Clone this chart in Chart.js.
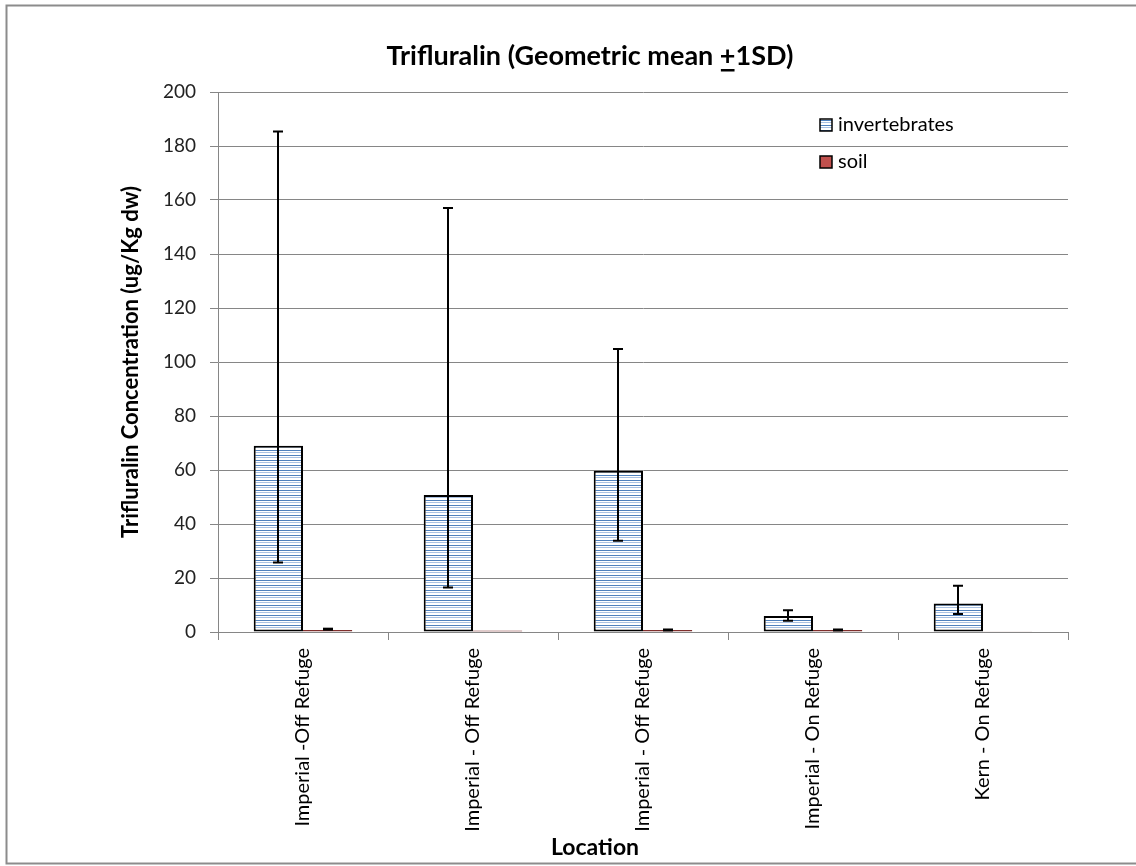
<!DOCTYPE html>
<html>
<head>
<meta charset="utf-8">
<script src="https://cdn.jsdelivr.net/npm/chart.js@4.4.1/dist/chart.umd.min.js"></script>
<style>
html,body{margin:0;padding:0;background:#fff;}
#wrap{width:1136px;height:866px;position:relative;}
</style>
</head>
<body>
<div id="wrap"><canvas id="c"></canvas></div>
<script>
const categories = ["Imperial -Off Refuge", "Imperial - Off Refuge", "Imperial - Off Refuge", "Imperial - On Refuge", "Kern - On Refuge"];
const invertebrates = [69.0, 50.7, 59.7, 5.9, 10.6];
const invertebratesLow = [25.7, 16.5, 33.8, 4.2, 6.7];
const invertebratesHigh = [185.4, 157.0, 104.8, 8.1, 17.1];
const soil = [0.7, 0.6, 0.7, 0.7, 0.3];
const soilLow = [0.5, 0.6, 0.5, 0.5, 0.3];
const soilHigh = [1.6, 0.6, 1.3, 1.3, 0.3];
const yTicks = [0, 20, 40, 60, 80, 100, 120, 140, 160, 180, 200];
const titleText = "Trifluralin (Geometric mean ";
const titlePm = "+";
const titleRest = "1SD)";
const yTitle = "Trifluralin Concentration (ug/Kg dw)";
const xTitle = "Location";
const legendLabels = ["invertebrates", "soil"];

const FONT = "Lato, 'Open Sans', sans-serif";

function makePattern(){
  const p = document.createElement('canvas');
  p.width = 8; p.height = 5;
  const g = p.getContext('2d');
  g.fillStyle = '#ffffff'; g.fillRect(0,0,8,5);
  g.fillStyle = '#4F81BD'; g.fillRect(0,0,8,1);
  g.fillStyle = '#A9C1E2'; g.fillRect(0,2,8,1);
  return document.getElementById('c').getContext('2d').createPattern(p,'repeat');
}
const pattern = makePattern();

const errorBars = {
  id: 'errorBars',
  afterDatasetsDraw(chart){
    const ctx = chart.ctx;
    const y = chart.scales.y;
    const sets = [[invertebratesLow, invertebratesHigh],[soilLow, soilHigh]];
    ctx.save();
    ctx.strokeStyle = '#000';
    ctx.lineWidth = 2;
    sets.forEach((s, di) => {
      const meta = chart.getDatasetMeta(di);
      meta.data.forEach((bar, i) => {
        const lo = s[0][i], hi = s[1][i];
        if (hi - lo < 0.01) return;
        const x = Math.round(bar.x);
        const yl = y.getPixelForValue(lo), yh = y.getPixelForValue(hi);
        if (yl - yh < 4) {
          ctx.fillStyle = '#000';
          ctx.fillRect(x-5, yh, 10, Math.max(yl-yh,3));
          return;
        }
        ctx.beginPath();
        ctx.moveTo(x, yl); ctx.lineTo(x, yh);
        ctx.moveTo(x-5, yh); ctx.lineTo(x+5, yh);
        ctx.moveTo(x-5, yl); ctx.lineTo(x+5, yl);
        ctx.stroke();
      });
    });
    ctx.restore();
  }
};

const decor = {
  id: 'decor',
  beforeDraw(chart){
    const ctx = chart.ctx;
    ctx.save();
    ctx.fillStyle = '#fff';
    ctx.fillRect(0,0,chart.width,chart.height);
    ctx.strokeStyle = '#8c8c8c';
    ctx.lineWidth = 2;
    ctx.strokeRect(6.5, 5.5, 1140, 858);
    ctx.restore();
  },
  afterDraw(chart){
    const ctx = chart.ctx;
    ctx.save();
    // title
    ctx.fillStyle = '#000';
    ctx.font = "bold 27px " + FONT;
    ctx.textBaseline = 'alphabetic';
    const full = titleText + titlePm + titleRest;
    const w = ctx.measureText(full).width;
    const x0 = 590 - w/2;
    ctx.textAlign = 'left';
    ctx.fillText(full, x0, 65);
    const pw = ctx.measureText(titleText).width;
    const plw = ctx.measureText(titlePm).width;
    ctx.fillRect(x0 + pw + 1, 69, plw - 2, 2.5);
    // y title
    ctx.font = "bold 22px " + FONT;
    ctx.save();
    ctx.translate(131, 362);
    ctx.rotate(-Math.PI/2);
    ctx.textAlign = 'center';
    ctx.textBaseline = 'middle';
    ctx.fillText(yTitle, 0, 0);
    ctx.restore();
    // x title
    ctx.textAlign = 'center';
    ctx.textBaseline = 'middle';
    ctx.font = "bold 23px " + FONT;
    ctx.fillText(xTitle, 595, 848);
    // legend
    ctx.font = "20px " + FONT;
    ctx.textAlign = 'left';
    const items = [{fill: pattern, stroke:'#000', y:125},{fill:'#C0504D', stroke:'#7F2F2D', y:162}];
    items.forEach((it, i) => {
      ctx.fillStyle = it.fill;
      ctx.fillRect(820, it.y-6, 12, 12);
      ctx.strokeStyle = '#000';
      ctx.lineWidth = 1.5;
      ctx.strokeRect(820, it.y-6, 12, 12);
      ctx.fillStyle = '#000';
      ctx.fillText(legendLabels[i], 838, it.y);
    });
    ctx.restore();
  }
};

new Chart(document.getElementById('c'), {
  type: 'bar',
  data: {
    labels: categories,
    datasets: [
      {label: legendLabels[0], data: invertebrates, backgroundColor: pattern, borderColor: '#000', borderWidth: 2, borderSkipped: false, categoryPercentage: 0.58, barPercentage: 1.0},
      {label: legendLabels[1], data: soil, backgroundColor: '#C0504D', borderColor: '#7F2F2D', borderWidth: 1, borderSkipped: false, categoryPercentage: 0.58, barPercentage: 1.0}
    ]
  },
  options: {
    responsive: true,
    maintainAspectRatio: false,
    animation: false,
    layout: {padding: {top: 92, right: 68, left: 0, bottom: 0}},
    plugins: {legend: {display: false}, title: {display: false}, tooltip: {enabled: false}},
    scales: {
      x: {
        afterFit(s){ s.height = 234; },
        grid: {display: true, drawOnChartArea: false, offset: true, color: '#868686', tickLength: 8, tickColor: '#868686'},
        border: {color: '#868686', width: 1},
        ticks: {minRotation: 90, maxRotation: 90, autoSkip: false, color: '#000', padding: 8, font: {family: FONT, size: 20}}
      },
      y: {
        min: 0, max: 200,
        afterFit(s){ s.width = 218; },
        afterBuildTicks(s){ s.ticks = yTicks.map(v => ({value: v})); },
        grid: {color: '#868686', tickLength: 8, tickColor: '#868686'},
        border: {color: '#868686', width: 1},
        ticks: {color: '#222', padding: 14, font: {family: FONT, size: 19}}
      }
    }
  },
  plugins: [decor, errorBars]
});
</script>
</body>
</html>
